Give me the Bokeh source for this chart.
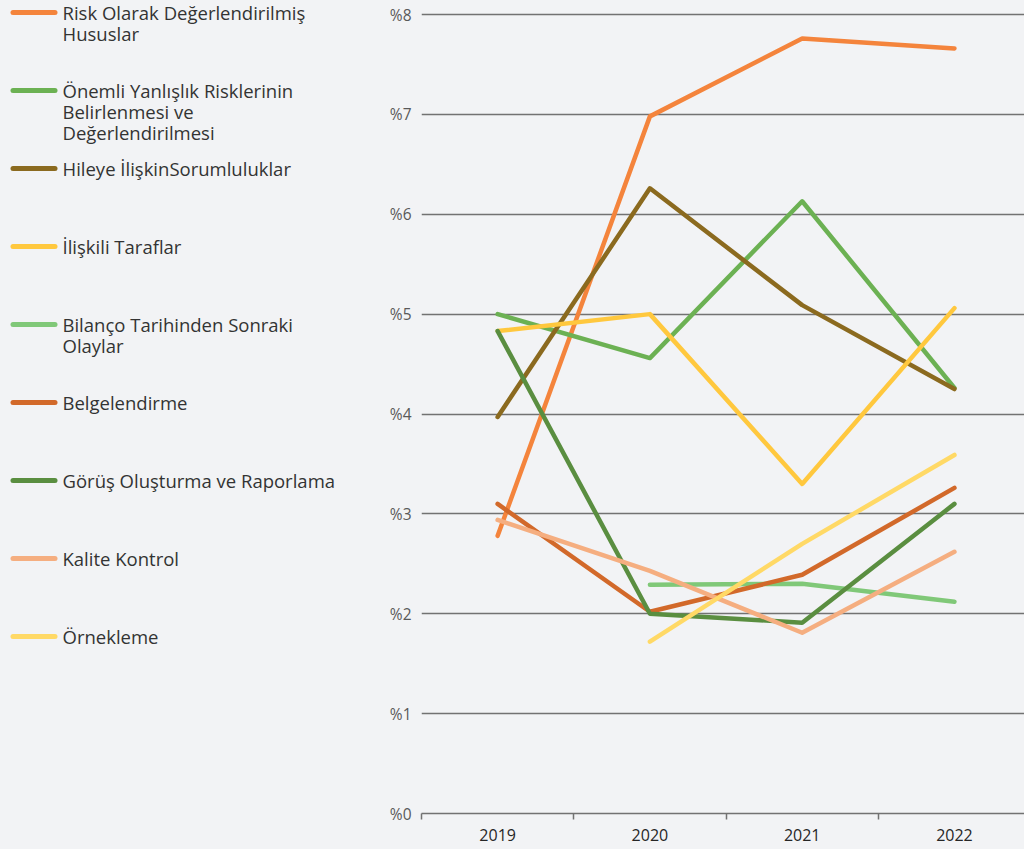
from bokeh.plotting import figure
from bokeh.models import Range1d, FixedTicker, ColumnDataSource
from bokeh.layouts import row
from bokeh.embed import file_html
from bokeh.resources import INLINE
from bokeh.core.properties import value

nan = float("nan")

years = ["2019", "2020", "2021", "2022"]
y_ticks = [0, 1, 2, 3, 4, 5, 6, 7, 8]
y_tick_labels = ["%0", "%1", "%2", "%3", "%4", "%5", "%6", "%7", "%8"]

series_names = [
    "Risk Olarak Değerlendirilmiş\nHususlar",
    "Önemli Yanlışlık Risklerinin\nBelirlenmesi ve\nDeğerlendirilmesi",
    "Hileye İlişkinSorumluluklar",
    "İlişkili Taraflar",
    "Bilanço Tarihinden Sonraki\nOlaylar",
    "Belgelendirme",
    "Görüş Oluşturma ve Raporlama",
    "Kalite Kontrol",
    "Örnekleme",
]
risk = [2.78, 6.98, 7.76, 7.66]
onemli = [5.00, 4.56, 6.13, 4.26]
hileye = [3.97, 6.26, 5.09, 4.25]
iliskili = [4.83, 5.00, 3.30, 5.06]
bilanco = [nan, 2.29, 2.30, 2.12]
belgelendirme = [3.10, 2.02, 2.39, 3.26]
gorus = [4.83, 2.00, 1.91, 3.10]
kalite = [2.94, 2.43, 1.81, 2.62]
orneklem = [nan, 1.72, 2.70, 3.59]
series_values = [risk, onemli, hileye, iliskili, bilanco, belgelendirme, gorus, kalite, orneklem]
colors = ["#F4843C", "#6CB153", "#8B6A1F", "#FFC83E", "#80C878",
          "#D2692A", "#5A8E40", "#F5AE80", "#FFD966"]

BG = "#F2F3F5"
GRID = "#727272"
W, H = 1024, 849
LEG_W = 368
BOTTOM = 36
FRAME_H = H - BOTTOM          # frames span from page top to the x axis
PX_PER_UNIT = 99.875          # vertical pixels per percentage point

# ---------------- chart ----------------
x_pos = [i + 0.5 for i in range(len(years))]
p = figure(width=W - LEG_W, height=H, output_backend="svg", toolbar_location=None,
           x_range=Range1d(0, 3.96), y_range=Range1d(0, FRAME_H / PX_PER_UNIT),
           min_border_left=53, min_border_right=0,
           min_border_top=0, min_border_bottom=BOTTOM)
p.background_fill_color = BG
p.border_fill_color = BG
p.outline_line_color = None

for vals, col in zip(series_values, colors):
    src = ColumnDataSource(dict(x=x_pos, y=vals))
    p.line("x", "y", source=src, line_color=col, line_width=4.5,
           line_cap="round", line_join="round")

p.xaxis.ticker = FixedTicker(ticks=x_pos, minor_ticks=list(range(len(years) + 1)))
p.xaxis.major_label_overrides = {x: y for x, y in zip(x_pos, years)}
p.xaxis.major_tick_out = 0
p.xaxis.major_tick_in = 0
p.xaxis.minor_tick_out = 6
p.xaxis.minor_tick_in = 0
p.xaxis.minor_tick_line_color = GRID
p.xaxis.minor_tick_line_width = 1.5
p.xaxis.axis_line_color = GRID
p.xaxis.axis_line_width = 1.5
p.xaxis.major_label_standoff = 9
p.xaxis.major_label_text_font = "Open Sans"
p.xaxis.major_label_text_font_size = "16px"
p.xaxis.major_label_text_color = "#262626"

p.yaxis.ticker = FixedTicker(ticks=y_ticks, minor_ticks=[])
p.yaxis.major_label_overrides = {t: l for t, l in zip(y_ticks, y_tick_labels)}
p.yaxis.axis_line_color = None
p.yaxis.major_tick_line_color = None
p.yaxis.major_tick_out = 0
p.yaxis.major_tick_in = 0
p.yaxis.major_label_standoff = 10
p.yaxis.major_label_text_font = "Open Sans"
p.yaxis.major_label_text_font_size = "15.5px"
p.yaxis.major_label_text_color = "#595959"

p.xgrid.grid_line_color = None
p.ygrid.grid_line_color = GRID
p.ygrid.grid_line_width = 1.5

# ---------------- legend ----------------
# legend frame shares the chart frame's vertical extent, so its y range is in page pixels
lg = figure(width=LEG_W, height=H, output_backend="svg", toolbar_location=None,
            x_range=Range1d(0, LEG_W), y_range=Range1d(FRAME_H, 0),
            x_axis_type=None, y_axis_type=None,
            min_border_left=0, min_border_right=0,
            min_border_top=0, min_border_bottom=BOTTOM)
lg.background_fill_color = BG
lg.border_fill_color = BG
lg.outline_line_color = None
lg.grid.visible = False

step = 78
for i, (name, col) in enumerate(zip(series_names, colors)):
    yc = 12 + i * step
    lg.segment(x0=[12.5], y0=[yc], x1=[54.5], y1=[yc], line_color=col,
               line_width=5, line_cap="round")
    lines = name.split("\n")
    lg.text(x=[62] * len(lines), y=[yc + k * 21 for k in range(len(lines))],
            text=lines, text_font=value("Open Sans"), text_font_size="18.5px",
            text_color="#333333", text_baseline="middle", text_align="left")

layout = row(lg, p, spacing=0)
html = file_html(layout, INLINE)
html = html.replace("</head>",
                    "<style>html, body { background-color: #F2F3F5; }</style></head>", 1)
open("out.html", "w").write(html)
